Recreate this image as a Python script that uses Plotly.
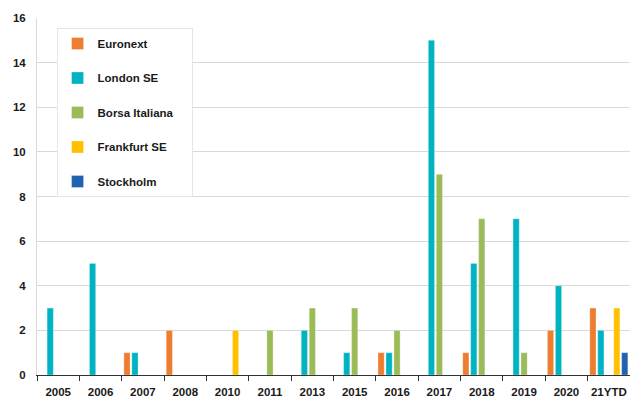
import plotly.graph_objects as go

categories = ["2005", "2006", "2007", "2008", "2010", "2011", "2013", "2015",
              "2016", "2017", "2018", "2019", "2020", "21YTD"]
euronext  = [0, 0, 1, 2, 0, 0, 0, 0, 1, 0, 1, 0, 2, 3]
london    = [3, 5, 1, 0, 0, 0, 2, 1, 1, 15, 5, 7, 4, 2]
borsa     = [0, 0, 0, 0, 0, 2, 3, 3, 2, 9, 7, 1, 0, 0]
frankfurt = [0, 0, 0, 0, 2, 0, 0, 0, 0, 0, 0, 0, 0, 3]
stockholm = [0, 0, 0, 0, 0, 0, 0, 0, 0, 0, 0, 0, 0, 1]

series = [
    ("Euronext", euronext, "#ED7D31"),
    ("London SE", london, "#00B3C2"),
    ("Borsa Italiana", borsa, "#9BBB59"),
    ("Frankfurt SE", frankfurt, "#FFC000"),
    ("Stockholm", stockholm, "#1F63B0"),
]

pad = "\u00a0" * 4
fig = go.Figure()
for i, (name, vals, col) in enumerate(series):
    fig.add_trace(go.Bar(
        x=categories, y=vals, name=name + pad,
        marker=dict(color=col, line=dict(color="rgba(255,255,255,0.6)", width=0.5)),
        legendgroup=str(i),
    ))

font_family = "Liberation Sans, Arial, sans-serif"
fig.update_layout(
    width=630, height=400,
    margin=dict(l=37, r=0, t=18, b=25),
    paper_bgcolor="white", plot_bgcolor="white",
    barmode="group", bargap=0.06, bargroupgap=0.22,
    font=dict(family=font_family, size=11, color="#1a1a1a"),
    showlegend=True,
    legend=dict(
        x=0.033, y=0.972, xanchor="left", yanchor="top",
        bgcolor="white", bordercolor="#e6e6dc", borderwidth=1,
        font=dict(family=font_family, size=11.5, color="#1a1a1a", weight="bold"),
        tracegroupgap=15.5, traceorder="grouped",
        itemwidth=30,
    ),
    xaxis=dict(
        type="category", showgrid=False, tickangle=0, automargin=False,
        showline=True, linecolor="#333333", linewidth=1,
        ticks="outside", tickson="boundaries", ticklen=5, tickcolor="#333333",
        tickfont=dict(family=font_family, size=11.5, color="#1a1a1a", weight="bold"),
        ticklabelstandoff=6,
    ),
    yaxis=dict(
        range=[0, 16], dtick=2,
        showgrid=True, gridcolor="#d9d9d9", gridwidth=1,
        showline=True, linecolor="#d9d9d9", zeroline=False,
        tickfont=dict(family=font_family, size=11.5, color="#1a1a1a", weight="bold"),
        ticks="", ticklabelstandoff=8,
    ),
)

fig.write_html("out.html")
